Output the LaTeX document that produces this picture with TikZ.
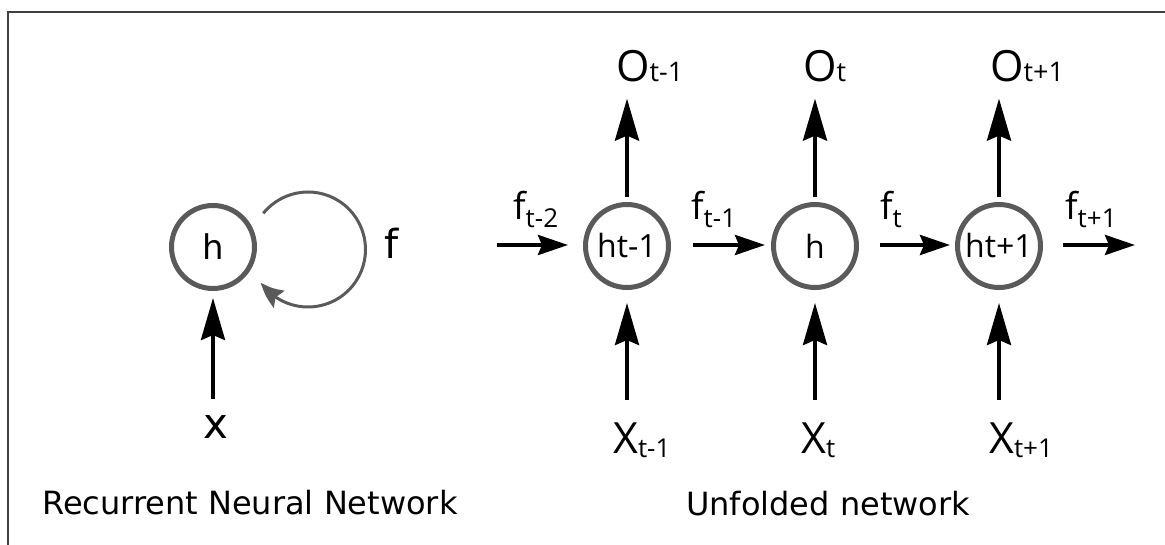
\documentclass[tikz,border=0pt]{standalone}
\usepackage{fontspec}
\setmainfont{DejaVu Sans}
\newfontfamily\cellfont{Open Sans}
\usetikzlibrary{arrows.meta, bending, positioning}
\definecolor{cellgray}{HTML}{5A5A5A}
\newcommand{\pxsize}[1]{\fontsize{#1}{#1}\selectfont}
% small index, on the baseline or dropped below it
\newcommand{\flatsub}[1]{{\pxsize{27}#1}}
\newcommand{\lowsub}[2][8pt]{\raisebox{-#1}{\pxsize{26}#2}}
\tikzset{
    cell/.style={
           circle,
           draw=cellgray, line width=5pt,
           minimum size=83pt,
           inner sep=0pt,
           font=\cellfont\pxsize{32},
           },
    lbl/.style={inner sep=0pt, anchor=base west},
    flow/.style={-{Stealth[length=42pt,width=24pt,inset=5pt]}, line width=4pt},
    pass/.style={-{Stealth[length=30pt,width=20pt,inset=4pt]}, line width=4pt},
    back/.style={-{Stealth[length=25pt,width=20pt,inset=4pt,bend]}, line width=3pt, cellgray},
}

\begin{document}
\begin{tikzpicture}[x=1pt, y=-1pt]
  \useasboundingbox (0,0) rectangle (1165,545);
  \draw[line width=1.5pt, black!75] (1165,12) -- (8,12) -- (8,545);

  % folded cell
  \node[cell, font=\pxsize{34}]                 (h)     at (213,247) {h};
  \node[lbl, font=\pxsize{42}]                  (x)     at (203,438) {x};
  \node[lbl, font=\pxsize{40}]                  (f)     at (384,259) {f};
  \coordinate                                   (loopc) at (308,249.5);

  \draw[flow, shorten <=16pt, shorten >=7pt]   (h.south |- x.north) -- (h.south);
  \draw[back]  (loopc) ++(-141:57.5) arc[start angle=-141, end angle=145, radius=57.5];

  % unfolded cells
  \node[cell]                                   (hp)    at (627,246) {ht-1};
  \node[cell]                                   (hc)    at (815,246) {h};
  \node[cell]                                   (hn)    at (999,246) {ht+1};

  \begin{scope}[every node/.style={lbl, font=\cellfont\pxsize{43}}]
    \node (op) at (616,82)  {O\flatsub{t-1}};
    \node (oc) at (803,82)  {O\flatsub{t}};
    \node (on) at (990,82)  {O\flatsub{t+1}};
    \node (xp) at (613,453) {X\lowsub[4pt]{t-1}};
    \node (xc) at (801,453) {X\lowsub[4pt]{t}};
    \node (xn) at (989,453) {X\lowsub[4pt]{t+1}};
  \end{scope}
  \begin{scope}[every node/.style={lbl, font=\cellfont\pxsize{37}}]
    \node (fa) at (513,220)  {f\lowsub{t-2}};
    \node (fb) at (691,220)  {f\lowsub{t-1}};
    \node (fc) at (880,220)  {f\lowsub{t}};
    \node (fd) at (1065,220) {f\lowsub{t+1}};
  \end{scope}

  \coordinate (in)  at (497,245);
  \coordinate (out) at (1135,245);

  % inputs and outputs
  \foreach \c/\o/\i in {hp/op/xp, hc/oc/xc, hn/on/xn} {
    \draw[flow, shorten <=5pt, shorten >=16pt]  (\c.north) -- (\c.north |- \o.south);
    \draw[flow, shorten <=22pt, shorten >=13pt] (\c.south |- \i.north) -- (\c.south);
  }

  % hidden state passed along
  \draw[pass, shorten >=15pt]                   (in)  -- (hp.west |- in);
  \draw[pass, shorten <=22pt, shorten >=6pt]    (hp.east |- in) -- (hc.west |- in);
  \draw[pass, shorten <=21pt, shorten >=5pt]    (hc.east |- in) -- (hn.west |- in);
  \draw[pass, shorten <=20pt]                   (hn.east |- in) -- (out);

  % captions
  \node[lbl, font=\pxsize{32}] (cap1) at (42,514)  {Recurrent Neural Network};
  \node[lbl, font=\pxsize{32}] (cap2) at (686,515) {Unfolded network};
\end{tikzpicture}
\end{document}
